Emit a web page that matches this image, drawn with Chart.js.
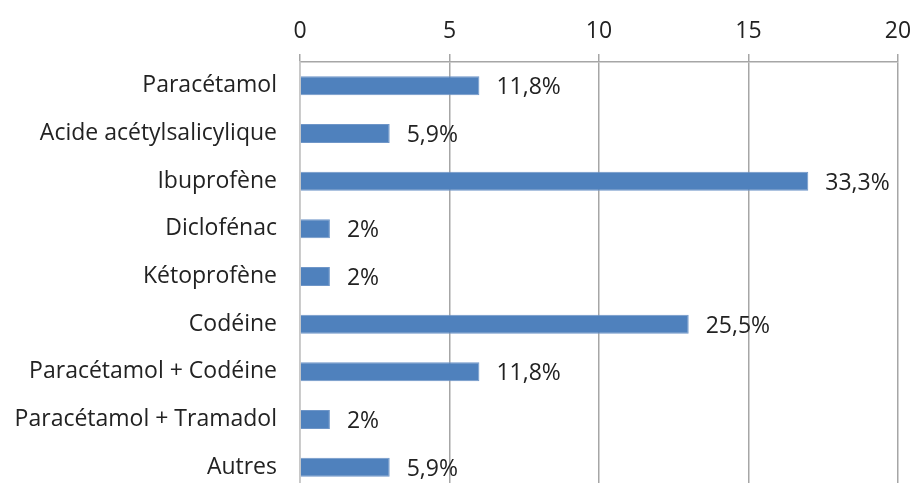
<!DOCTYPE html>
<html>
<head>
<meta charset="utf-8">
<script src="https://cdn.jsdelivr.net/npm/chart.js@4/dist/chart.umd.min.js"></script>
<style>
  html, body { margin: 0; padding: 0; background: #fff; overflow: hidden; }
  canvas { display: block; }
</style>
</head>
<body>
<canvas id="chart" width="913" height="491"></canvas>
<script>
  // drugs, count of mentions, and the percent labels as printed
  var categories = ["Paracétamol", "Acide acétylsalicylique", "Ibuprofène", "Diclofénac", "Kétoprofène",
                    "Codéine", "Paracétamol + Codéine", "Paracétamol + Tramadol", "Autres"];
  var counts = [6, 3, 17, 1, 1, 13, 6, 1, 3];
  var pctLabels = ["11,8%", "5,9%", "33,3%", "2%", "2%", "25,5%", "11,8%", "2%", "5,9%"];
  var xTicks = [0, 5, 10, 15, 20];

  var FONT = { family: "'Open Sans', sans-serif", size: 23 };
  var TEXT = "#222222";
  var GRID = "#a6a6a6";

  // draws the percent text to the right of each bar
  var pctPlugin = {
    id: 'pctLabels',
    afterDatasetsDraw: function (chart) {
      var ctx = chart.ctx;
      var meta = chart.getDatasetMeta(0);
      ctx.save();
      ctx.font = FONT.size + "px " + FONT.family;
      ctx.fillStyle = TEXT;
      ctx.textAlign = "left";
      ctx.textBaseline = "middle";
      meta.data.forEach(function (bar, i) {
        ctx.fillText(pctLabels[i], bar.x + 17, bar.y + 2);
      });
      ctx.restore();
    }
  };

  new Chart(document.getElementById("chart"), {
    type: 'bar',
    data: {
      labels: categories,
      datasets: [{
        data: counts,
        backgroundColor: "#4f81bd",
        borderColor: "#6f96c8",
        borderWidth: 1,
        categoryPercentage: 1,
        barPercentage: 0.4
      }]
    },
    plugins: [pctPlugin],
    options: {
      indexAxis: 'y',
      responsive: false,
      animation: false,
      layout: { padding: { left: 0, right: 15, top: 0, bottom: 0 } },
      plugins: {
        legend: { display: false },
        tooltip: { enabled: false }
      },
      scales: {
        x: {
          position: 'top',
          min: 0,
          max: 20,
          afterBuildTicks: function (axis) {
            axis.ticks = xTicks.map(function (v) { return { value: v }; });
          },
          afterFit: function (axis) {
            axis.height = 62;
            axis.paddingLeft = 0;
            axis.paddingRight = 0;
          },
          grid: { color: GRID, lineWidth: 1.5, drawTicks: true, tickLength: 8 },
          border: { color: GRID, width: 1.5 },
          ticks: { color: TEXT, font: FONT, padding: 9, maxRotation: 0 }
        },
        y: {
          afterFit: function (axis) {
            axis.width = 300;
            axis.paddingTop = 0;
            axis.paddingBottom = 0;
          },
          grid: { display: false, drawTicks: false },
          border: { color: "#c8c8c8", width: 1.5 },
          ticks: { color: TEXT, font: FONT, padding: 23 }
        }
      }
    }
  });
</script>
</body>
</html>
